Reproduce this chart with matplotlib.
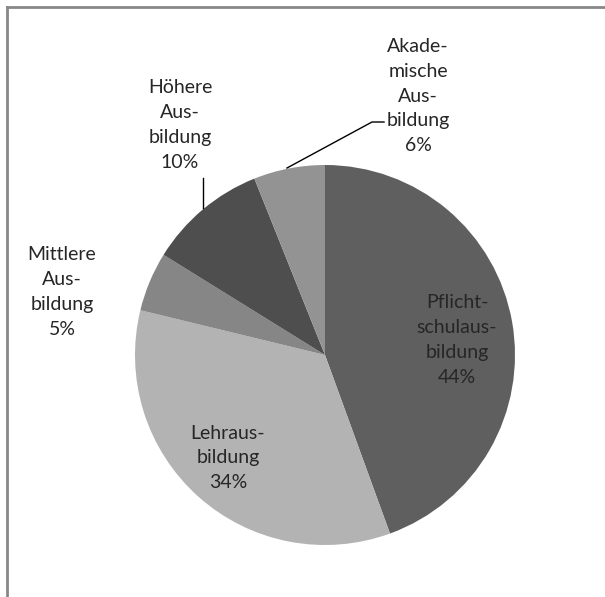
import matplotlib
matplotlib.use('Agg')
import matplotlib.pyplot as plt
from matplotlib.lines import Line2D

plt.rcParams['font.family'] = ['Lato', 'DejaVu Sans']

# Ausbildungsniveau, im Uhrzeigersinn ab 12 Uhr
labels = ['Pflicht-\nschulaus-\nbildung', 'Lehraus-\nbildung', 'Mittlere\nAus-\nbildung',
          'Höhere\nAus-\nbildung', 'Akade-\nmische\nAus-\nbildung']
shares = [44, 34, 5, 10, 6]
colors = ['#5f5f5f', '#b3b3b3', '#868686', '#4e4e4e', '#939393']

W, H = 605, 597
fig = plt.figure(figsize=(W / 100, H / 100), dpi=100)
ax = fig.add_axes([0, 0, 1, 1])

cx, cy, r = 325, H - 355, 190
ax.pie(shares, colors=colors, startangle=90, counterclock=False,
       center=(cx, cy), radius=r, wedgeprops=dict(linewidth=0))
ax.set_xlim(0, W)
ax.set_ylim(0, H)
ax.set_aspect('equal')
ax.axis('off')

# label positions in pixel coords (x, y from top)
pos = [(457, 340), (228, 458), (62, 292), (180, 125), (418, 96)]
for lab, val, (x, y) in zip(labels, shares, pos):
    ax.text(x, H - y, f'{lab}\n{val}%', ha='center', va='center',
            fontsize=14, color='#262626', linespacing=1.55)

# leader lines
ax.plot([203, 203], [H - 178, H - 208], color='black', lw=1)
ax.plot([287, 372, 384], [H - 168, H - 122, H - 122], color='black', lw=1)

# chart frame (top and left edges)
ax.add_line(Line2D([7, 7], [0, H - 7], color='#888888', lw=2))
ax.add_line(Line2D([7, W], [H - 7, H - 7], color='#888888', lw=2))

fig.savefig('out.png', dpi=100)
